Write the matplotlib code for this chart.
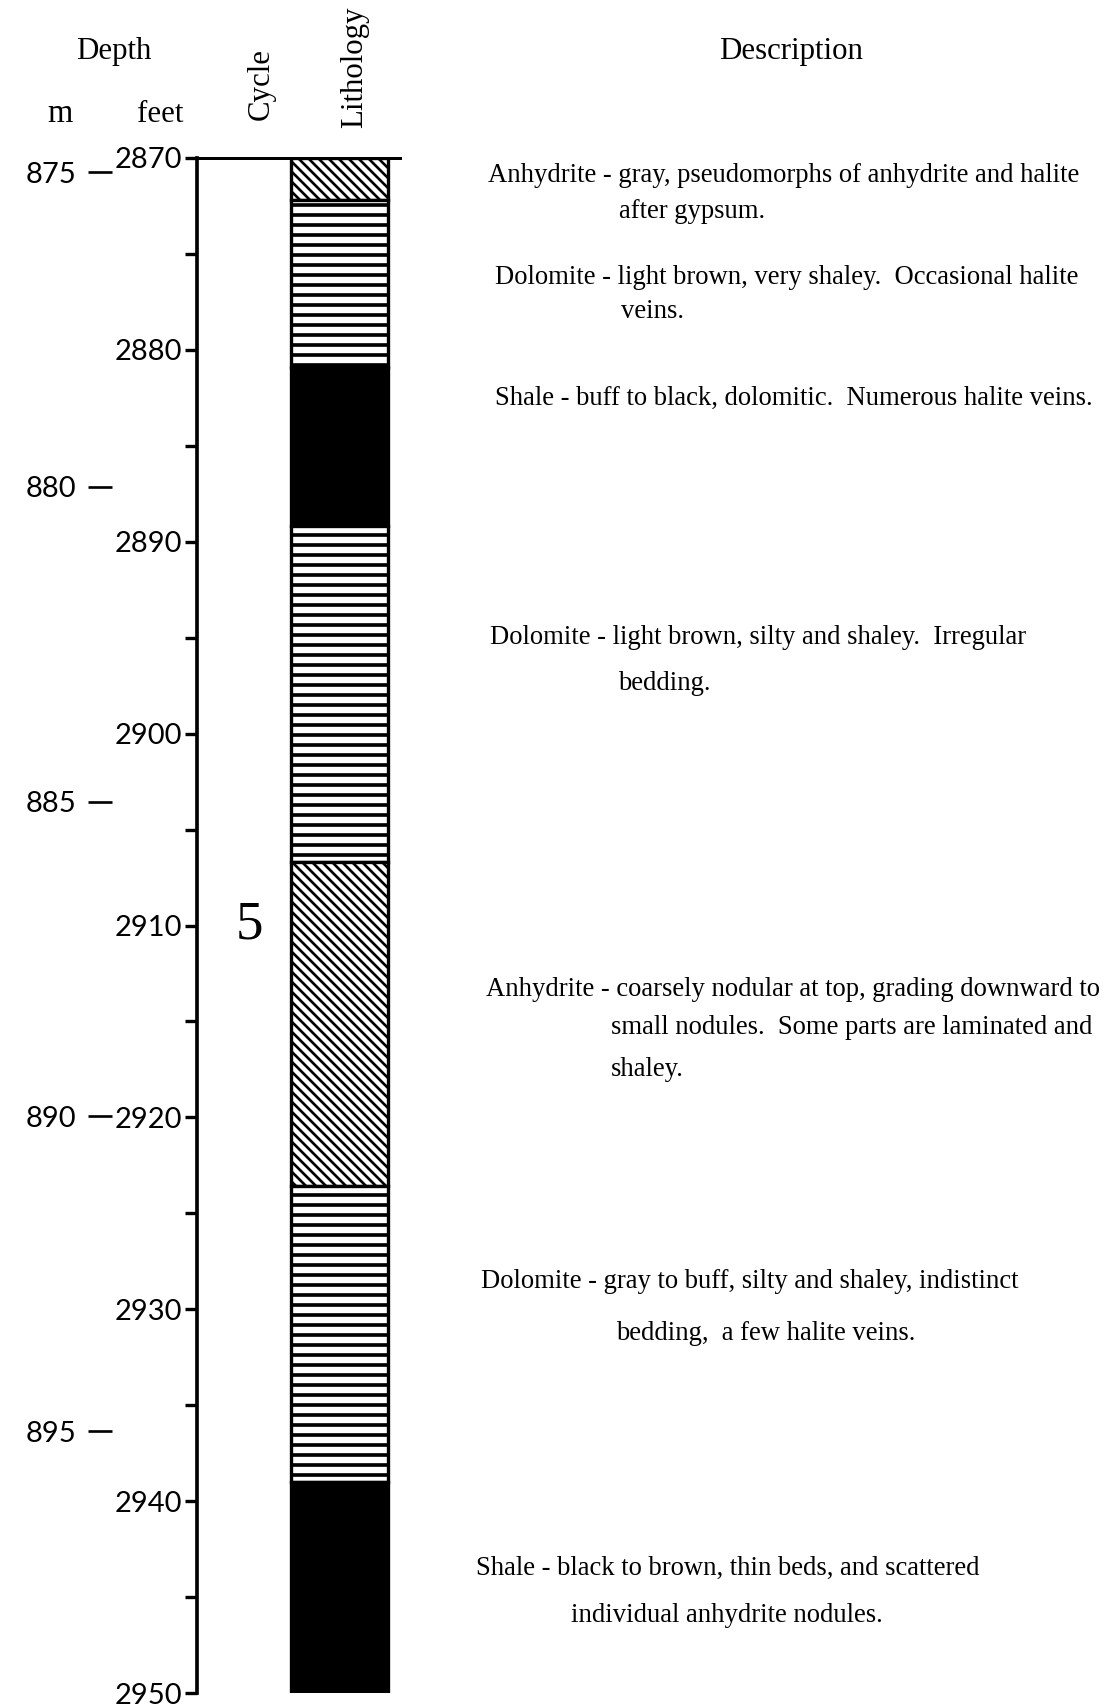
import matplotlib
matplotlib.use("Agg")
import matplotlib.pyplot as plt

# ---------------- data ----------------
unit_names = ["Anhydrite", "Dolomite", "Shale", "Dolomite", "Anhydrite", "Dolomite", "Shale"]
unit_tops = [2870.0, 2872.2, 2880.9, 2889.2, 2906.7, 2923.6, 2939.0]
unit_bases = [2872.2, 2880.9, 2889.2, 2906.7, 2923.6, 2939.0, 2950.0]

feet_major = [2870, 2880, 2890, 2900, 2910, 2920, 2930, 2940, 2950]
feet_minor = [2875, 2885, 2895, 2905, 2915, 2925, 2935, 2945]
meter_ticks = [875, 880, 885, 890, 895]

cycle_labels = ["5"]
cycle_depths = [2910]

descriptions = [
    ["Anhydrite - gray, pseudomorphs of anhydrite and halite", "after gypsum."],
    ["Dolomite - light brown, very shaley.  Occasional halite", "veins."],
    ["Shale - buff to black, dolomitic.  Numerous halite veins."],
    ["Dolomite - light brown, silty and shaley.  Irregular", "bedding."],
    ["Anhydrite - coarsely nodular at top, grading downward to",
     "small nodules.  Some parts are laminated and", "shaley."],
    ["Dolomite - gray to buff, silty and shaley, indistinct", "bedding,  a few halite veins."],
    ["Shale - black to brown, thin beds, and scattered", "individual anhydrite nodules."],
]

# ---------------- layout / style ----------------
W, H, DPI = 1118, 1704, 120
SERIF = ["Liberation Serif", "DejaVu Serif"]
NUMF = ["Lato", "DejaVu Sans"]

plt.rcParams["hatch.linewidth"] = 2.0
plt.rcParams["hatch.color"] = "black"

styles = {
    "Anhydrite": dict(facecolor="white", hatch="\\\\\\\\", hlw=1.6),
    "Dolomite": dict(facecolor="white", hatch="--", hlw=2.2),
    "Shale": dict(facecolor="black", hatch=None, hlw=1.0),
}

# description text line positions (pixels)
desc_pos = [
    [(488, 176), (619, 211)],
    [(495, 278), (621, 312)],
    [(495, 398)],
    [(490, 638), (618, 684)],
    [(486, 989), (611, 1028), (611, 1069)],
    [(481, 1282), (616, 1334)],
    [(476, 1568), (571, 1616)],
]

fig = plt.figure(figsize=(W / DPI, H / DPI), dpi=DPI)
ax_left, ax_right, ax_top, ax_bot = 197, 400, 158, 1693
ax = fig.add_axes([ax_left / W, 1 - ax_bot / H, (ax_right - ax_left) / W, (ax_bot - ax_top) / H])
ax.set_xlim(0, ax_right - ax_left)
ax.set_ylim(2950, 2870)

lith_left, lith_width = 94, 97
for name, top, base in zip(unit_names, unit_tops, unit_bases):
    st = styles[name]
    bars = ax.bar(lith_left, base - top, bottom=top, width=lith_width, align="edge",
                  facecolor=st["facecolor"], hatch=st["hatch"], edgecolor="black",
                  linewidth=2.0, zorder=3)
    for p in bars:
        if hasattr(p, "set_hatch_linewidth"):
            p.set_hatch_linewidth(st["hlw"])

for lab, d in zip(cycle_labels, cycle_depths):
    ax.text(52, d, lab, ha="center", va="center", fontsize=33, family=SERIF)

for s in ["right", "bottom"]:
    ax.spines[s].set_visible(False)
ax.spines["left"].set_linewidth(2.2)
ax.spines["top"].set_linewidth(1.8)
ax.set_xticks([])
ax.set_yticks(feet_major)
ax.set_yticks(feet_minor, minor=True)
ax.set_yticklabels([str(v) for v in feet_major], family=NUMF, fontsize=17.5)
ax.tick_params(axis="y", which="both", direction="out", length=7.5, width=2.0, pad=1.5)

# metric scale
sec = ax.secondary_yaxis((112 - ax_left) / (ax_right - ax_left),
                         functions=(lambda f: f * 0.3048, lambda m: m / 0.3048))
sec.set_yticks(meter_ticks)
sec.set_yticklabels([str(v) for v in meter_ticks], family=NUMF, fontsize=17.5)
sec.tick_params(axis="y", which="major", direction="out", length=14.4, width=1.6, pad=7)
sec.tick_params(axis="y", which="minor", length=0)
sec.spines["left"].set_visible(False)

# headings
def ftext(x, y, s, **kw):
    fig.text(x / W, 1 - y / H, s, **kw)

ftext(114, 52, "Depth", ha="center", va="center", fontsize=18.5, family=SERIF)
ftext(60, 114, "m", ha="center", va="center", fontsize=19.5, family=SERIF)
ftext(160, 114, "feet", ha="center", va="center", fontsize=18.5, family=SERIF)
ftext(261, 120, "Cycle", ha="center", va="bottom", rotation=90, fontsize=18.5, family=SERIF)
ftext(355, 128, "Lithology", ha="center", va="bottom", rotation=90, fontsize=18.5, family=SERIF)
ftext(791, 52, "Description", ha="center", va="center", fontsize=18.5, family=SERIF)

for lines, poss in zip(descriptions, desc_pos):
    for line, (x, y) in zip(lines, poss):
        ftext(x, y, line, ha="left", va="center", fontsize=16, family=SERIF)

fig.savefig("out.png", dpi=DPI)
